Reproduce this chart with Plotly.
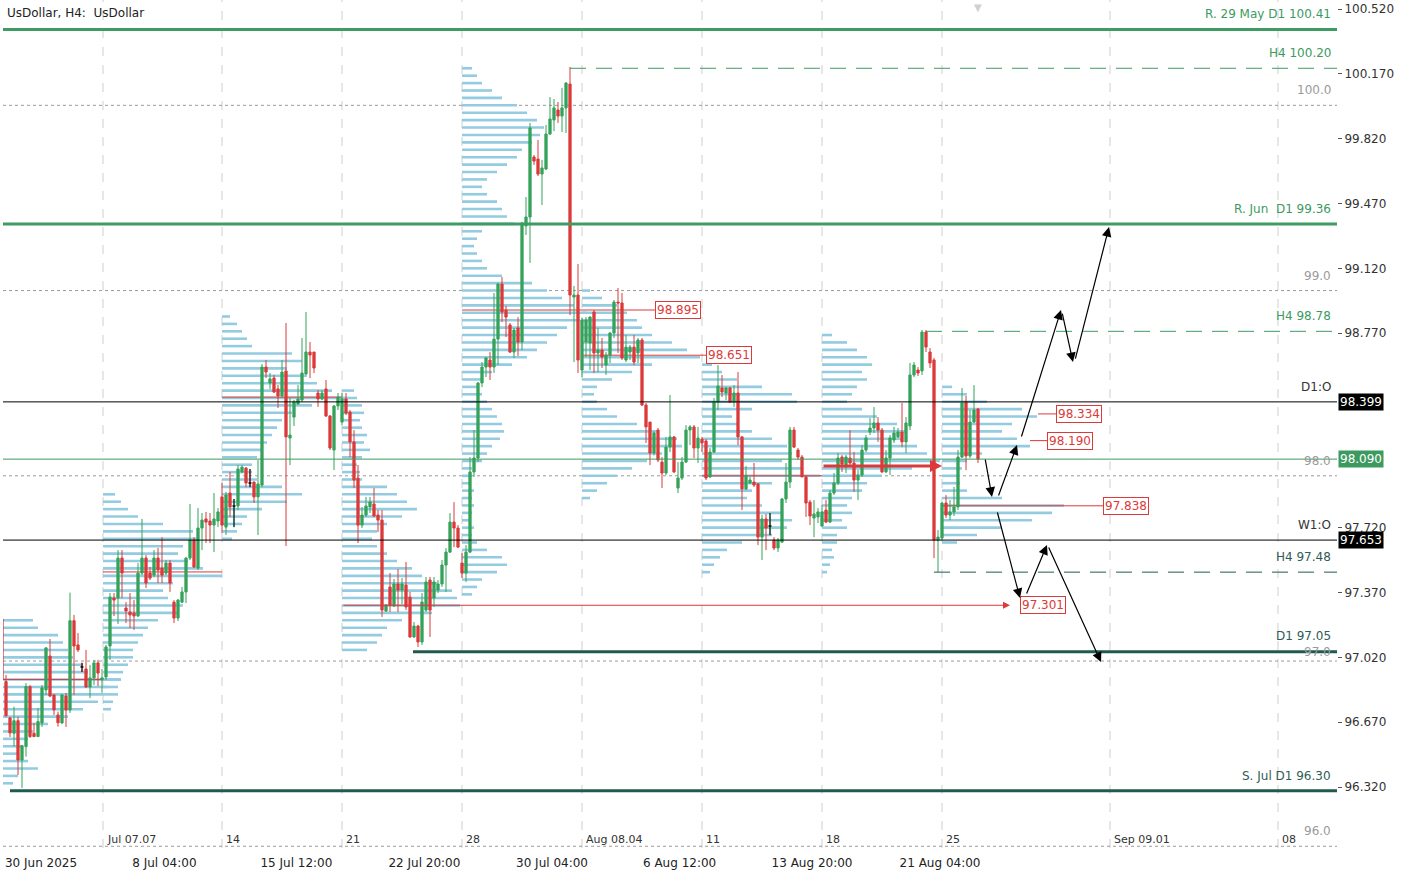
import plotly.graph_objects as go

FONT = "DejaVu Sans"
GREEN = "#35A35A"
RED = "#DC3A3A"
PROFILE_COLOR = "#93CBE0"
LEVEL_GREEN = "#3E9B62"
LEVEL_TEAL = "#1F5A4E"
LABEL_TEAL = "#2F5C55"

# ---------------- candles (H4, index = bar number) ----------------
open_p = [
    97.227, 96.889, 96.693, 96.610, 96.678, 96.466, 96.538, 96.862, 96.610, 96.592,
    96.666, 96.844, 97.027, 96.817, 96.709, 96.666, 96.811, 96.736, 97.218, 97.087,
    96.968, 96.957, 96.860, 96.909, 96.990, 96.898, 96.914, 97.081, 97.340, 97.340,
    97.556, 97.286, 97.265, 97.259, 97.243, 97.475, 97.556, 97.475, 97.464, 97.556,
    97.502, 97.475, 97.529, 97.318, 97.232, 97.318, 97.373, 97.556, 97.653, 97.502,
    97.718, 97.767, 97.756, 97.734, 97.756, 97.886, 97.723, 97.907, 97.837, 97.837,
    98.021, 98.042, 97.961, 97.966, 97.886, 97.950, 98.587, 98.501, 98.528, 98.469,
    98.431, 98.566, 98.204, 98.317, 98.388, 98.409, 98.550, 98.668, 98.668, 98.447,
    98.415, 98.469, 98.323, 98.139, 98.377, 98.290, 98.415, 98.344, 98.183, 97.988,
    97.734, 97.788, 97.832, 97.848, 97.788, 97.761, 97.270, 97.400, 97.297, 97.416,
    97.383, 97.410, 97.345, 97.130, 97.189, 97.103, 97.275, 97.437, 97.340, 97.383,
    97.416, 97.518, 97.588, 97.750, 97.718, 97.529, 97.475, 97.588, 98.021, 98.096,
    98.501, 98.587, 98.625, 98.587, 98.738, 99.035, 98.895, 98.814, 98.668, 98.798,
    98.722, 99.349, 99.397, 99.721, 99.710, 99.629, 99.656, 99.845, 99.921, 99.975,
    99.942, 99.986, 100.115, 98.965, 98.976, 98.571, 98.722, 98.717, 98.884, 98.663,
    98.679, 98.598, 98.652, 98.771, 98.938, 98.933, 98.625, 98.668, 98.695, 98.663,
    98.733, 98.382, 98.290, 98.123, 98.247, 98.074, 98.015, 98.155, 98.210, 97.934,
    97.988, 98.074, 98.247, 98.264, 98.150, 98.198, 98.188, 97.994, 98.128, 98.398,
    98.474, 98.447, 98.474, 98.398, 98.447, 98.210, 97.929, 97.961, 97.966, 97.956,
    97.669, 97.767, 97.729, 97.653, 97.610, 97.642, 97.875, 97.966, 98.247, 98.139,
    98.101, 97.994, 97.858, 97.772, 97.778, 97.729, 97.815, 97.750, 97.907, 97.961,
    98.101, 98.047, 98.096, 98.069, 97.977, 98.004, 98.139, 98.236, 98.258, 98.285,
    98.247, 98.021, 98.096, 98.193, 98.210, 98.236, 98.183, 98.269, 98.544, 98.571,
    98.566, 98.776, 98.668, 98.625, 97.653, 97.664, 97.853, 97.788, 97.805, 97.832,
    98.101, 98.398, 98.107, 98.290, 98.360,
]
high_p = [
    97.240, 96.925, 96.698, 96.754, 96.700, 96.547, 96.881, 96.870, 96.666, 96.747,
    96.871, 97.075, 97.119, 96.820, 96.727, 96.820, 96.828, 97.369, 97.249, 97.152,
    96.990, 97.060, 96.979, 97.006, 97.006, 96.957, 97.087, 97.367, 97.367, 97.599,
    97.599, 97.318, 97.367, 97.329, 97.529, 97.767, 97.572, 97.508, 97.599, 97.610,
    97.669, 97.545, 97.545, 97.329, 97.335, 97.400, 97.561, 97.848, 97.669, 97.826,
    97.799, 97.805, 97.799, 97.907, 97.826, 97.961, 97.913, 98.021, 97.875, 98.058,
    98.058, 98.047, 98.037, 97.970, 98.085, 98.603, 98.625, 98.555, 98.544, 98.490,
    98.625, 98.825, 98.420, 98.409, 98.490, 98.744, 98.884, 98.722, 98.668, 98.463,
    98.463, 98.517, 98.328, 98.382, 98.447, 98.447, 98.447, 98.355, 98.247, 98.058,
    97.831, 97.886, 97.886, 97.934, 97.815, 97.815, 97.308, 97.475, 97.443, 97.497,
    97.448, 97.535, 97.373, 97.211, 97.195, 97.367, 97.454, 97.454, 97.454, 97.437,
    97.545, 97.610, 97.799, 97.858, 97.734, 97.583, 97.626, 98.101, 98.247, 98.506,
    98.614, 98.641, 98.668, 98.987, 99.041, 99.073, 98.917, 98.825, 98.798, 98.857,
    99.370, 99.505, 99.905, 99.732, 99.813, 99.705, 99.894, 100.045, 100.034, 100.018,
    100.094, 100.126, 100.207, 99.025, 99.143, 98.852, 98.857, 98.860, 98.895, 98.798,
    98.744, 98.668, 98.776, 98.949, 99.014, 98.987, 98.760, 98.706, 98.760, 98.744,
    98.744, 98.393, 98.290, 98.240, 98.258, 98.101, 98.210, 98.436, 98.215, 98.074,
    98.101, 98.274, 98.274, 98.274, 98.264, 98.210, 98.198, 98.150, 98.420, 98.598,
    98.544, 98.480, 98.480, 98.490, 98.560, 98.215, 98.053, 97.994, 98.069, 97.961,
    97.788, 97.794, 97.799, 97.669, 97.664, 97.880, 98.069, 98.264, 98.264, 98.150,
    98.112, 98.004, 97.869, 97.869, 97.826, 97.842, 97.869, 97.923, 98.015, 98.123,
    98.112, 98.112, 98.247, 98.128, 98.031, 98.166, 98.220, 98.312, 98.371, 98.317,
    98.258, 98.139, 98.220, 98.264, 98.258, 98.393, 98.317, 98.609, 98.614, 98.587,
    98.787, 98.787, 98.690, 98.636, 97.707, 97.858, 97.896, 97.869, 97.940, 98.139,
    98.474, 98.431, 98.355, 98.490, 98.366,
]
low_p = [
    96.890, 96.700, 96.590, 96.538, 96.385, 96.315, 96.484, 96.585, 96.590, 96.590,
    96.644, 96.817, 96.806, 96.709, 96.646, 96.660, 96.644, 96.720, 96.817, 97.049,
    96.941, 96.855, 96.800, 96.871, 96.865, 96.828, 96.898, 97.006, 97.243, 97.200,
    97.340, 97.205, 97.178, 97.168, 97.238, 97.464, 97.394, 97.437, 97.453, 97.421,
    97.421, 97.464, 97.373, 97.205, 97.216, 97.313, 97.313, 97.545, 97.502, 97.491,
    97.599, 97.637, 97.637, 97.588, 97.724, 97.691, 97.680, 97.778, 97.723, 97.815,
    98.015, 97.939, 97.939, 97.853, 97.680, 97.939, 98.528, 98.469, 98.447, 98.366,
    98.420, 97.621, 98.058, 98.269, 98.382, 98.398, 98.544, 98.528, 98.555, 98.372,
    98.409, 98.317, 98.139, 98.031, 98.355, 98.274, 98.328, 98.101, 97.934, 97.637,
    97.718, 97.778, 97.799, 97.778, 97.696, 97.238, 97.265, 97.265, 97.292, 97.265,
    97.308, 97.275, 97.125, 97.125, 97.076, 97.087, 97.265, 97.130, 97.292, 97.367,
    97.400, 97.373, 97.583, 97.615, 97.610, 97.448, 97.427, 97.583, 97.994, 98.074,
    98.479, 98.533, 98.517, 98.555, 98.598, 98.830, 98.749, 98.663, 98.636, 98.647,
    98.679, 99.300, 99.149, 99.678, 99.618, 99.462, 99.651, 99.840, 99.861, 99.905,
    99.856, 99.851, 98.868, 98.614, 98.555, 98.533, 98.641, 98.571, 98.555, 98.560,
    98.582, 98.544, 98.609, 98.744, 98.663, 98.625, 98.614, 98.625, 98.598, 98.609,
    98.377, 98.177, 98.058, 98.110, 98.074, 97.934, 98.004, 98.128, 98.015, 97.907,
    97.977, 98.069, 98.166, 98.096, 98.069, 98.128, 97.977, 97.988, 98.123, 98.355,
    98.425, 98.409, 98.393, 98.372, 98.166, 97.815, 97.923, 97.956, 97.939, 97.626,
    97.545, 97.599, 97.680, 97.599, 97.588, 97.637, 97.853, 97.934, 98.150, 98.085,
    97.994, 97.778, 97.734, 97.669, 97.745, 97.723, 97.745, 97.745, 97.896, 97.950,
    98.021, 98.015, 98.058, 97.913, 97.869, 97.994, 98.128, 98.220, 98.231, 98.183,
    98.015, 98.015, 98.004, 98.177, 98.204, 98.155, 98.123, 98.247, 98.533, 98.539,
    98.544, 98.668, 98.582, 97.556, 97.481, 97.653, 97.772, 97.761, 97.783, 97.815,
    98.096, 98.031, 98.096, 98.285, 98.069,
]
close_p = [
    96.898, 96.705, 96.612, 96.678, 96.466, 96.543, 96.862, 96.592, 96.592, 96.673,
    96.855, 97.071, 96.811, 96.736, 96.667, 96.817, 96.736, 97.218, 97.081, 97.060,
    96.968, 96.860, 96.909, 96.990, 96.935, 96.909, 97.076, 97.345, 97.329, 97.556,
    97.475, 97.270, 97.249, 97.243, 97.475, 97.556, 97.421, 97.448, 97.556, 97.491,
    97.464, 97.529, 97.421, 97.232, 97.329, 97.373, 97.556, 97.653, 97.508, 97.718,
    97.761, 97.750, 97.734, 97.767, 97.805, 97.734, 97.896, 97.832, 97.837, 98.037,
    98.047, 97.961, 97.961, 97.886, 97.956, 98.587, 98.560, 98.523, 98.452, 98.431,
    98.560, 98.210, 98.220, 98.398, 98.415, 98.555, 98.668, 98.652, 98.582, 98.415,
    98.447, 98.323, 98.150, 98.377, 98.425, 98.415, 98.339, 98.183, 97.977, 97.734,
    97.788, 97.837, 97.859, 97.783, 97.761, 97.275, 97.302, 97.302, 97.416, 97.383,
    97.416, 97.292, 97.130, 97.189, 97.103, 97.319, 97.427, 97.275, 97.427, 97.416,
    97.518, 97.588, 97.750, 97.718, 97.615, 97.475, 97.588, 98.021, 98.096, 98.501,
    98.587, 98.636, 98.587, 98.738, 99.035, 98.884, 98.857, 98.668, 98.787, 98.722,
    99.365, 99.397, 99.878, 99.699, 99.629, 99.662, 99.845, 99.926, 99.986, 99.942,
    99.986, 100.120, 98.976, 98.976, 98.625, 98.841, 98.841, 98.857, 98.663, 98.679,
    98.641, 98.652, 98.771, 98.938, 98.933, 98.636, 98.695, 98.695, 98.614, 98.733,
    98.382, 98.264, 98.123, 98.231, 98.085, 98.015, 98.155, 98.210, 98.021, 97.988,
    98.074, 98.247, 98.264, 98.150, 98.204, 98.177, 97.988, 98.128, 98.398, 98.485,
    98.452, 98.474, 98.398, 98.447, 98.210, 97.929, 97.999, 97.977, 97.950, 97.669,
    97.767, 97.718, 97.729, 97.610, 97.653, 97.875, 97.966, 98.247, 98.155, 98.101,
    97.994, 97.853, 97.783, 97.794, 97.805, 97.805, 97.750, 97.907, 97.961, 98.096,
    98.063, 98.101, 98.069, 97.977, 98.004, 98.139, 98.204, 98.258, 98.285, 98.247,
    98.021, 98.096, 98.204, 98.231, 98.236, 98.183, 98.285, 98.544, 98.598, 98.555,
    98.776, 98.695, 98.609, 97.653, 97.669, 97.853, 97.788, 97.805, 97.832, 98.101,
    98.393, 98.107, 98.290, 98.355, 98.090,
]
bar_index = list(range(len(close_p)))

# ---------------- time axis labels ----------------
TICK_POS = [9.75, 40.6, 73.6, 105.6, 137.5, 169.4, 202.5, 234.5]
TICK_TEXT = ["30 Jun 2025", "8 Jul 04:00", "15 Jul 12:00", "22 Jul 20:00",
             "30 Jul 04:00", "6 Aug 12:00", "13 Aug 20:00", "21 Aug 04:00"]
SEP_POS = [25.25, 55, 85, 115, 145, 175, 205, 235, 277, 319]
SEP_TEXT = ["Jul 07.07", "14", "21", "28", "Aug 08.04", "11", "18", "25", "Sep 09.01", "08"]

# ---------------- price axis ----------------
Y_RANGE = [95.9907, 100.5686]
# 98.420 and 98.070 are hidden under the price boxes in the reference
Y_TICKS = [100.52, 100.17, 99.82, 99.47, 99.12, 98.77, 97.72, 97.37, 97.02, 96.67, 96.32]
ROUND_LEVELS = [100.0, 99.0, 98.0, 97.0, 96.0]

# ---------------- weekly volume profiles ----------------
PROFILE_STEP = 0.04
VOL_SCALE = 0.25
WEEK_START = [0.25, 25.25, 55, 85, 115, 145, 175, 205, 235]
PROFILE_TOP = [97.22, 97.90, 98.86, 98.46, 100.20, 99.00, 98.60, 98.76, 98.48]
PROFILES = [
    [30, 35, 55, 60, 65, 70, 80, 85, 118, 105, 100, 95, 80, 65, 45, 30, 25, 20, 15, 25, 35, 15, 10],
    [12, 18, 25, 35, 60, 90, 95, 80, 75, 85, 100, 119, 70, 60, 65, 80, 75, 55, 45, 40, 35, 30, 30, 25,
     20, 18, 15, 15, 10, 8],
    [8, 15, 20, 25, 30, 70, 80, 65, 85, 95, 110, 125, 90, 70, 60, 55, 50, 45, 40, 35, 30, 30, 35, 60,
     80, 65, 40, 25, 20, 15, 10],
    [12, 15, 20, 22, 18, 20, 25, 22, 28, 20, 15, 18, 20, 45, 55, 65, 75, 60, 45, 35, 30, 35, 45, 55,
     70, 80, 95, 110, 115, 118, 90, 60, 45, 40, 35, 25],
    [10, 15, 20, 30, 40, 55, 65, 75, 82, 78, 70, 60, 55, 45, 35, 25, 20, 25, 35, 40, 45, 52, 20, 15,
     12, 15, 20, 25, 40, 70, 85, 100, 112, 125, 118, 105, 95, 85, 75, 65, 50, 30, 20, 15, 20, 25, 30,
     35, 40, 42, 38, 30, 25, 20, 10, 10, 8, 12, 10, 12, 10, 8, 12, 10, 15, 25, 40, 45, 35, 20, 15, 10],
    [8, 20, 35, 45, 55, 60, 70, 90, 105, 118, 70, 50, 30, 15, 12, 15, 25, 35, 55, 75, 95, 100, 80, 65,
     50, 35, 25, 15, 8],
    [10, 20, 35, 60, 90, 95, 50, 30, 35, 50, 70, 85, 90, 80, 100, 118, 70, 50, 45, 60, 80, 90, 85, 70,
     40, 25, 18, 12, 8],
    [10, 25, 35, 45, 50, 40, 45, 35, 30, 25, 40, 55, 75, 85, 80, 95, 105, 118, 90, 60, 45, 40, 30, 25,
     30, 20, 25, 15, 15, 10, 12, 8, 5],
    [10, 25, 45, 80, 95, 70, 60, 75, 88, 40, 25, 20, 15, 18, 25, 60, 122, 110, 90, 60, 35, 15],
]
# point of control lines (week index -> price, end bar)
POC_WEEK = [0, 1, 2, 4, 5, 6, 8]
POC_PRICE = [96.90, 97.481, 98.425, 98.895, 98.651, 98.000, 97.838]
POC_END = [27, 55, 85, 163.25, 176, 205, 275.25]
# POC lines extended with arrow heads
POC_ARROW_START = [85, 205]
POC_ARROW_END = [252, 235]
POC_ARROW_PRICE = [97.301, 98.053]
POC_ARROW_WIDTH = [1, 3]
# extra profile markers with short connectors
MARK_PRICE = [98.334, 98.190]
MARK_FROM = [259, 257]
MARK_TO = [263.5, 261.25]
# price boxes
BOX_PRICE = [98.895, 98.651, 98.334, 98.190, 97.838, 97.301]
BOX_POS = [163.25, 176, 263.5, 261.25, 275.25, 254.5]

# ---------------- key levels ----------------
THICK_LEVELS = [100.41, 99.36, 97.05, 96.30]
THICK_FROM = [0.25, 0.25, 102.75, 2]
THICK_COLOR = [LEVEL_GREEN, LEVEL_GREEN, LEVEL_TEAL, LEVEL_TEAL]
DASH_LEVELS = [100.20, 98.78, 97.48]
DASH_FROM = [142, 231, 233]
DASH_COLOR = [LEVEL_GREEN, LEVEL_GREEN, LEVEL_TEAL]
OPEN_LEVELS = [98.399, 97.653]   # D1 open, W1 open
BID_PRICE = 98.090

LEVEL_LABELS = [
    ("R. 29 May D1 100.41", 100.41, "#3C9A5F", 15),
    ("H4 100.20", 100.20, "#3C9A5F", 15),
    ("100.0", 100.0, "#9A9A9A", 15),
    ("R. Jun \u00a0D1 99.36", 99.36, "#3C9A5F", 15),
    ("99.0", 99.0, "#9A9A9A", 15),
    ("H4 98.78", 98.78, "#3C9A5F", 15),
    ("D1:O", 98.399, "#333333", 15),
    ("98.0", 98.0, "#9A9A9A", 15),
    ("W1:O", 97.653, "#333333", 15),
    ("H4 97.48", 97.48, LABEL_TEAL, 15),
    ("D1 97.05", 97.05, LABEL_TEAL, 16),
    ("97.0", 97.0, "#9A9A9A", 9),
    ("S. Jul D1 96.30", 96.30, LABEL_TEAL, 15),
    ("96.0", 96.0, "#9A9A9A", 15),
]

# projected path arrows (bar index, price)
ARROW_FROM_T = [245.75, 249.0, 254.75, 265.0, 268.25, 248.75, 256.0, 261.5]
ARROW_FROM_P = [98.096, 97.886, 98.204, 98.884, 98.625, 97.810, 97.357, 97.621]
ARROW_TO_T = [247.5, 253.75, 264.75, 267.75, 276.75, 254.5, 261.25, 274.75]
ARROW_TO_P = [97.886, 98.166, 98.895, 98.614, 99.343, 97.340, 97.6265, 96.995]

# ================= build figure =================
fig = go.Figure()

for w, (start, top, vols) in enumerate(zip(WEEK_START, PROFILE_TOP, PROFILES)):
    levels = [round(top - k * PROFILE_STEP, 3) for k in range(len(vols))]
    fig.add_trace(go.Bar(
        orientation="h", y=levels, x=[v * VOL_SCALE for v in vols], base=start,
        width=0.014, marker=dict(color=PROFILE_COLOR, line=dict(width=0)),
        hoverinfo="skip", zorder=2 * w,
    ))
    if w in POC_WEEK:
        k = POC_WEEK.index(w)
        fig.add_trace(go.Scatter(
            x=[start, POC_END[k]], y=[POC_PRICE[k], POC_PRICE[k]], mode="lines",
            line=dict(color=RED, width=1), hoverinfo="skip", zorder=2 * w + 1,
        ))

for p, x0, x1 in zip(MARK_PRICE, MARK_FROM, MARK_TO):
    fig.add_trace(go.Scatter(x=[x0, x1], y=[p, p], mode="lines",
                             line=dict(color=RED, width=1), hoverinfo="skip", zorder=30))

cs_kwargs = dict(
    x=bar_index, open=open_p, high=high_p, low=low_p, close=close_p,
    increasing=dict(line=dict(color=GREEN, width=1), fillcolor=GREEN),
    decreasing=dict(line=dict(color=RED, width=1), fillcolor=RED),
    whiskerwidth=0, hoverinfo="skip",
)
try:
    cs = go.Candlestick(zorder=40, **cs_kwargs)
except Exception:
    cs = go.Candlestick(**cs_kwargs)
fig.add_trace(cs)

dx, dy = [], []
for i, (o, h, l, c) in enumerate(zip(open_p, high_p, low_p, close_p)):
    if o == c:
        dx += [i, i, None, i - 0.4, i + 0.4, None]
        dy += [l, h, None, o, o, None]
fig.add_trace(go.Scatter(x=dx, y=dy, mode="lines", line=dict(color="black", width=1),
                         hoverinfo="skip", zorder=41))

shapes = []
for s in SEP_POS:
    shapes.append(dict(type="line", xref="x", yref="paper", x0=s, x1=s, y0=0, y1=1,
                       line=dict(color="#CFCFCF", width=1, dash="dash"), layer="below"))
for lv in ROUND_LEVELS:
    shapes.append(dict(type="line", xref="paper", yref="y", x0=0, x1=1, y0=lv, y1=lv,
                       line=dict(color="#9A9A9A", width=1, dash="dot"), layer="below"))
shapes.append(dict(type="line", xref="paper", yref="y", x0=0, x1=1, y0=BID_PRICE, y1=BID_PRICE,
                   line=dict(color="#3C9A5F", width=1), layer="above"))
for lv in OPEN_LEVELS:
    shapes.append(dict(type="line", xref="paper", yref="y", x0=0, x1=1, y0=lv, y1=lv,
                       line=dict(color="black", width=1), layer="above"))
for lv, x0, col in zip(THICK_LEVELS, THICK_FROM, THICK_COLOR):
    shapes.append(dict(type="line", xref="x", yref="y", x0=x0, x1=333.75, y0=lv, y1=lv,
                       line=dict(color=col, width=3), layer="above"))
for lv, x0, col in zip(DASH_LEVELS, DASH_FROM, DASH_COLOR):
    shapes.append(dict(type="line", xref="x", yref="y", x0=x0, x1=333.75, y0=lv, y1=lv,
                       line=dict(color=col, width=1, dash="16px,10px"), layer="above"))

ann = []
ann.append(dict(text="UsDollar, H4: \u00a0UsDollar", xref="paper", yref="paper", x=0, y=1,
                xanchor="left", yanchor="top", xshift=2, yshift=-4, showarrow=False,
                font=dict(family=FONT, size=12, color="#222222")))
ann.append(dict(text="\u25bc", xref="x", yref="paper", x=244, y=1, xanchor="center", yanchor="top",
                showarrow=False, font=dict(size=10, color="#D0D0D0")))
for s, t in zip(SEP_POS, SEP_TEXT):
    ann.append(dict(text=t, xref="x", yref="paper", x=s, y=0, xanchor="left", yanchor="bottom",
                    xshift=2, yshift=0, showarrow=False,
                    font=dict(family=FONT, size=11, color="#333333")))
for t, lv, col, sh in LEVEL_LABELS:
    ann.append(dict(text=t, xref="paper", yref="y", x=0.997, y=lv, xanchor="right",
                    yanchor="middle", yshift=sh, showarrow=False,
                    font=dict(family=FONT, size=12, color=col)))
for p, bg in [(98.399, "black"), (BID_PRICE, "#3C9A5F"), (97.653, "black")]:
    ann.append(dict(text=f"{p:.3f}", xref="paper", yref="y", x=1.0, y=p, xanchor="left",
                    yanchor="middle", xshift=1, showarrow=False, bgcolor=bg, borderpad=1,
                    font=dict(family=FONT, size=12, color="white")))
for p, x in zip(BOX_PRICE, BOX_POS):
    ann.append(dict(text=f"{p:.3f}", xref="x", yref="y", x=x, y=p, xanchor="left",
                    yanchor="middle", showarrow=False, bgcolor="white", bordercolor=RED,
                    borderwidth=1, borderpad=1, font=dict(family=FONT, size=12, color=RED)))
for x0, x1, p, w in zip(POC_ARROW_START, POC_ARROW_END, POC_ARROW_PRICE, POC_ARROW_WIDTH):
    ann.append(dict(text="", xref="x", yref="y", axref="x", ayref="y", x=x1, y=p, ax=x0, ay=p,
                    showarrow=True, arrowhead=2, arrowsize=1.4 if w == 1 else 0.8,
                    arrowwidth=w, arrowcolor=RED))
for fx, fp, tx, tp in zip(ARROW_FROM_T, ARROW_FROM_P, ARROW_TO_T, ARROW_TO_P):
    ann.append(dict(text="", xref="x", yref="y", axref="x", ayref="y", x=tx, y=tp, ax=fx, ay=fp,
                    showarrow=True, arrowhead=2, arrowsize=1.6, arrowwidth=1.2,
                    arrowcolor="black"))

fig.update_layout(
    width=1403, height=876,
    margin=dict(l=3, r=66, t=0, b=28),
    paper_bgcolor="white", plot_bgcolor="white",
    showlegend=False, barmode="overlay", boxgap=0.2,
    shapes=shapes, annotations=ann,
    font=dict(family=FONT, size=12, color="#222222"),
    xaxis=dict(range=[0.25, 333.75], showgrid=False, zeroline=False,
               rangeslider=dict(visible=False), tickmode="array",
               tickvals=TICK_POS, ticktext=TICK_TEXT, ticks="", ticklabelstandoff=4,
               showline=True, linecolor="#555555", mirror=True, automargin=False,
               tickfont=dict(family=FONT, size=12, color="#222222")),
    yaxis=dict(range=Y_RANGE, side="right", showgrid=False, zeroline=False,
               tickmode="array", tickvals=Y_TICKS, ticktext=[f"{v:.3f}" for v in Y_TICKS],
               ticks="outside", ticklen=4, tickcolor="#555555", automargin=False,
               showline=True, linecolor="#555555", mirror=True,
               tickfont=dict(family=FONT, size=12, color="#333333")),
)

fig.write_html("out.html", config={"displayModeBar": False},
               post_script="document.body.style.margin='0px';")
